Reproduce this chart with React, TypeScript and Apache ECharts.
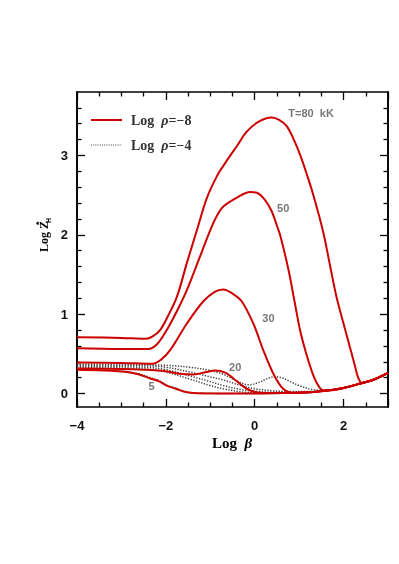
import React, { useEffect, useRef } from "react";
import * as echarts from "echarts";

// ---- data ----
const xTicks = [-4, -2, 0, 2];
const yMajorTicks = [0, 1, 2, 3];
const yMinorTicks = [0.2, 0.4, 0.6, 0.8, 1.2, 1.4, 1.6, 1.8, 2.2, 2.4, 2.6, 2.8, 3.2, 3.4, 3.6];

// Log rho = -8 (solid red)
const rhoM8_T80 = [
  [-4, 0.71], [-3, 0.70], [-2.45, 0.69], [-2.3, 0.72], [-2.13, 0.8], [-1.95, 0.98], [-1.75, 1.22],
  [-1.53, 1.64], [-1.3, 2.06], [-1.08, 2.46], [-0.85, 2.74], [-0.67, 2.9], [-0.4, 3.12],
  [-0.18, 3.3], [0.1, 3.43], [0.38, 3.48], [0.55, 3.45], [0.72, 3.37], [0.88, 3.2], [1.02, 3.01],
  [1.18, 2.75], [1.32, 2.5], [1.54, 2.04], [1.7, 1.6], [1.84, 1.22], [2.0, 0.88], [2.14, 0.59],
  [2.25, 0.36], [2.33, 0.2], [2.42, 0.13], [2.55, 0.15], [2.7, 0.18], [3.0, 0.26],
];
const rhoM8_T50 = [
  [-4, 0.57], [-3, 0.56], [-2.4, 0.56], [-2.2, 0.62], [-1.98, 0.8], [-1.75, 1.04], [-1.53, 1.3],
  [-1.25, 1.7], [-1.0, 2.06], [-0.85, 2.24], [-0.7, 2.36], [-0.4, 2.47], [-0.1, 2.54], [0.05, 2.53],
  [0.23, 2.44], [0.38, 2.3], [0.49, 2.13], [0.57, 2.0], [0.76, 1.56], [0.9, 1.15], [1.02, 0.8],
  [1.15, 0.52], [1.28, 0.29], [1.4, 0.13], [1.54, 0.04], [1.7, 0.04], [2.0, 0.07], [2.4, 0.13],
  [2.7, 0.18], [3.0, 0.26],
];
const rhoM8_T30 = [
  [-4, 0.39], [-3, 0.385], [-2.3, 0.375], [-2.1, 0.43], [-1.9, 0.55], [-1.53, 0.88], [-1.16, 1.16],
  [-0.9, 1.28], [-0.71, 1.31], [-0.5, 1.26], [-0.29, 1.16], [-0.03, 0.88], [0.19, 0.55],
  [0.42, 0.25], [0.64, 0.06], [0.87, 0.01], [1.2, 0.015], [1.5, 0.03], [2.0, 0.07], [2.4, 0.13],
  [2.7, 0.18], [3.0, 0.26],
];
const rhoM8_T20 = [
  [-4, 0.315], [-3, 0.31], [-2.5, 0.3], [-2, 0.28], [-1.7, 0.25], [-1.38, 0.24], [-1.1, 0.27],
  [-0.89, 0.29], [-0.65, 0.26], [-0.48, 0.19], [-0.18, 0.06], [0.12, 0.01], [0.5, 0.005], [1.0, 0.01],
  [1.5, 0.03], [2.0, 0.07], [2.4, 0.13], [2.7, 0.18], [3.0, 0.26],
];
const rhoM8_T5 = [
  [-4, 0.3], [-3.4, 0.29], [-2.88, 0.27], [-2.6, 0.24], [-2.35, 0.19], [-2.14, 0.15], [-1.98, 0.1],
  [-1.77, 0.06], [-1.6, 0.025], [-1.38, 0.005], [-1.0, 0.0], [0, 0.0], [0.5, 0.004], [1.0, 0.01],
  [1.5, 0.03], [2.0, 0.07], [2.4, 0.13], [2.7, 0.18], [3.0, 0.26],
];

// Log rho = -4 (dotted grey)
const rhoM4_T80 = [
  [-4, 0.37], [-3, 0.365], [-2, 0.355], [-1.45, 0.33], [-1, 0.29], [-0.7, 0.24], [-0.4, 0.16],
  [-0.15, 0.11], [0.1, 0.14], [0.25, 0.18], [0.42, 0.21], [0.6, 0.2], [0.8, 0.15], [1.0, 0.1],
  [1.3, 0.05], [1.6, 0.04], [2.0, 0.07], [2.4, 0.13], [2.7, 0.18], [3.0, 0.26],
];
const rhoM4_T50 = [
  [-4, 0.355], [-2.5, 0.35], [-2, 0.33], [-1.45, 0.27], [-1, 0.21], [-0.71, 0.17], [-0.3, 0.1],
  [0, 0.06], [0.4, 0.035], [0.8, 0.025], [1.2, 0.025], [1.6, 0.035], [2.0, 0.07], [2.4, 0.13],
  [2.7, 0.18], [3.0, 0.26],
];
const rhoM4_T30 = [
  [-4, 0.34], [-2.5, 0.33], [-2, 0.3], [-1.45, 0.22], [-1, 0.15], [-0.71, 0.1], [-0.3, 0.05],
  [0, 0.03], [0.4, 0.015], [0.8, 0.015], [1.2, 0.02], [1.6, 0.035], [2.0, 0.07], [2.4, 0.13],
  [2.7, 0.18], [3.0, 0.26],
];
const rhoM4_T20 = [
  [-4, 0.325], [-2.5, 0.31], [-2, 0.27], [-1.45, 0.18], [-1, 0.1], [-0.71, 0.06], [-0.3, 0.02],
  [0, 0.01], [0.4, 0.005], [1.0, 0.01], [1.5, 0.03], [2.0, 0.07], [2.4, 0.13], [2.7, 0.18],
  [3.0, 0.26],
];
const rhoM4_T5 = [
  [-4, 0.305], [-3.4, 0.295], [-2.88, 0.275], [-2.6, 0.245], [-2.35, 0.2], [-2.14, 0.155],
  [-1.98, 0.105], [-1.77, 0.065], [-1.6, 0.03], [-1.38, 0.007], [0, 0.0], [1.0, 0.01], [1.5, 0.03],
  [2.0, 0.07], [2.4, 0.13], [2.7, 0.18], [3.0, 0.26],
];

const curveLabels = [
  { x: 1.27, y: 3.54, text: "T=80  kK" },
  { x: 0.64, y: 2.34, text: "50" },
  { x: 0.31, y: 0.95, text: "30" },
  { x: -0.44, y: 0.34, text: "20" },
  { x: -2.32, y: 0.09, text: "5" },
];

const solidSeries = [rhoM8_T80, rhoM8_T50, rhoM8_T30, rhoM8_T20, rhoM8_T5];
const dottedSeries = [rhoM4_T80, rhoM4_T50, rhoM4_T30, rhoM4_T20, rhoM4_T5];

const RED = "#cc0000";
const GREY = "#444444";
const YMIN = -0.17;
const YMAX = 3.8;

const fmt = (v: number) => String(v).replace("-", "\u2212");

export default function App() {
  const ref = useRef<HTMLDivElement>(null);
  useEffect(() => {
    if (!ref.current) return;
    const chart = echarts.init(ref.current, undefined, { renderer: "svg" });
    const tickLine = { color: "#000", width: 1.3 };
    const axisLine = { show: true, onZero: false, lineStyle: { color: "#000", width: 1.6 } };
    const baseY = (position: string, values: number[], len: number, labels: boolean) => ({
      type: "value",
      position,
      min: YMIN,
      max: YMAX,
      axisLine,
      axisTick: { show: true, inside: true, length: len, customValues: values, lineStyle: tickLine },
      axisLabel: labels
        ? {
            show: true,
            customValues: values,
            margin: 9,
            color: "#111",
            fontSize: 13,
            fontWeight: "bold",
            fontFamily: "Liberation Sans",
            formatter: (v: number) => fmt(v),
          }
        : { show: false },
      splitLine: { show: false },
    });
    const baseX = (position: string, labels: boolean) => ({
      type: "value",
      position,
      min: -4,
      max: 3,
      interval: 2,
      axisLine,
      axisTick: { show: true, inside: true, length: 8, lineStyle: tickLine },
      minorTick: { show: true, splitNumber: 4, length: 4.5, lineStyle: tickLine },
      axisLabel: labels
        ? {
            show: true,
            margin: 12,
            color: "#111",
            fontSize: 13,
            fontWeight: "bold",
            fontFamily: "Liberation Sans",
            formatter: (v: number) => (xTicks.includes(v) ? fmt(v) : ""),
          }
        : { show: false },
      splitLine: { show: false },
    });

    const series: any[] = [];
    dottedSeries.forEach((d) =>
      series.push({
        type: "line",
        data: d,
        showSymbol: false,
        symbol: "none",
        smooth: 0.35,
        lineStyle: { color: GREY, width: 1.5, type: [1.3, 1.5] },
        z: 2,
      })
    );
    solidSeries.forEach((d) =>
      series.push({
        type: "line",
        data: d,
        showSymbol: false,
        symbol: "none",
        smooth: 0.35,
        lineStyle: { color: RED, width: 2 },
        z: 3,
      })
    );
    series.push({
      type: "scatter",
      symbolSize: 0,
      data: curveLabels.map((l) => ({ value: [l.x, l.y], name: l.text })),
      label: {
        show: true,
        position: "inside",
        formatter: (p: any) => p.name,
        color: "#555",
        fontSize: 11,
        fontWeight: "bold",
        fontFamily: "Liberation Sans",
      },
      z: 5,
    });

    const richLegend = {
      a: { fontFamily: "Liberation Serif", fontSize: 14, fill: "#333", fontWeight: "bold" },
      b: { fontFamily: "Liberation Serif", fontSize: 14, fill: "#333", fontStyle: "italic", fontWeight: "bold" },
    };

    chart.setOption({
      animation: false,
      grid: { left: 77, right: 11, top: 92, bottom: 157, show: false },
      xAxis: [baseX("bottom", true), baseX("top", false)],
      yAxis: [
        baseY("left", yMajorTicks, 8, true),
        baseY("left", yMinorTicks, 4.5, false),
        baseY("right", yMajorTicks, 8, false),
        baseY("right", yMinorTicks, 4.5, false),
      ],
      series,
      graphic: [
        { type: "line", shape: { x1: 91, y1: 120, x2: 122, y2: 120 }, style: { stroke: RED, lineWidth: 2 } },
        {
          type: "line",
          shape: { x1: 91, y1: 145, x2: 122, y2: 145 },
          style: { stroke: GREY, lineWidth: 1.2, lineDash: [1, 1.2] },
        },
        {
          type: "text",
          x: 131,
          y: 120,
          style: { text: "{a|Log  }{b|\u03c1}{a|=\u22128}", verticalAlign: "middle", rich: richLegend },
        },
        {
          type: "text",
          x: 131,
          y: 145,
          style: { text: "{a|Log  }{b|\u03c1}{a|=\u22124}", verticalAlign: "middle", rich: richLegend },
        },
        {
          type: "text",
          x: 232,
          y: 443,
          style: {
            text: "{a|Log  }{b|\u03b2}",
            align: "center",
            verticalAlign: "middle",
            rich: {
              a: { fontFamily: "Liberation Serif", fontSize: 15, fill: "#000", fontWeight: "bold" },
              b: { fontFamily: "Liberation Serif", fontSize: 15, fill: "#000", fontStyle: "italic", fontWeight: "bold" },
            },
          },
        },
        {
          type: "group",
          x: 44,
          y: 235,
          rotation: Math.PI / 2,
          children: [
            {
              type: "text",
              x: -17,
              y: 0,
              style: {
                text: "Log Z",
                font: 'bold 12px "Liberation Serif"',
                fill: "#000",
                verticalAlign: "middle",
                align: "left",
              },
            },
            {
              type: "text",
              x: 10,
              y: -5,
              style: { text: "*", font: 'bold 9px "Liberation Sans"', fill: "#000", verticalAlign: "middle", align: "left" },
            },
            {
              type: "text",
              x: 12,
              y: 4,
              style: { text: "H", font: 'bold 7px "Liberation Sans"', fill: "#000", verticalAlign: "middle", align: "left" },
            },
          ],
        },
      ],
    });
    return () => chart.dispose();
  }, []);
  return <div ref={ref} style={{ position: "fixed", left: 0, top: 0, width: 399, height: 564 }} />;
}
